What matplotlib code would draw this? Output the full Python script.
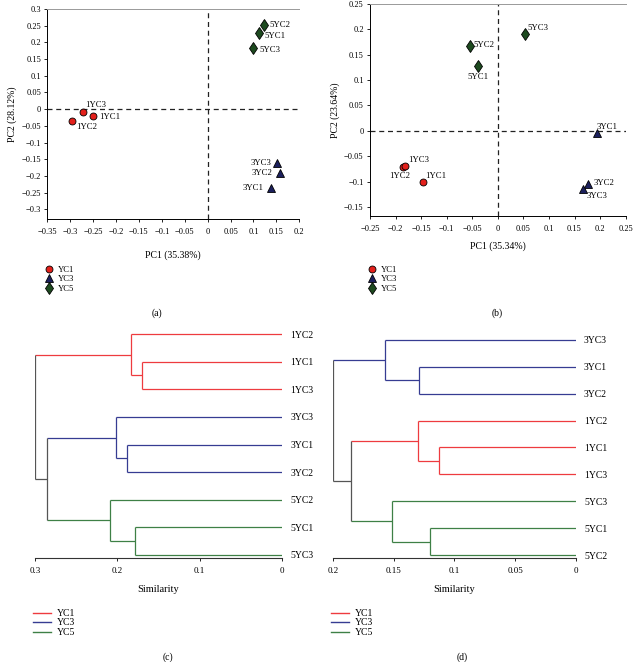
import matplotlib
matplotlib.use('Agg')
import matplotlib.pyplot as plt
import numpy as np
from matplotlib.lines import Line2D

plt.rcParams['font.family'] = ['Liberation Serif', 'DejaVu Serif']

# ---- data ----
samples = ['1YC1', '1YC2', '1YC3', '3YC1', '3YC2', '3YC3', '5YC1', '5YC2', '5YC3']
groups = ['YC1', 'YC3', 'YC5']

# PCA (a)
pc1_a = [-0.250, -0.297, -0.271, 0.138, 0.157, 0.152, 0.111, 0.124, 0.100]
pc2_a = [-0.020, -0.035, -0.009, -0.237, -0.190, -0.161, 0.228, 0.251, 0.184]
# PCA (b)
pc1_b = [-0.147, -0.186, -0.181, 0.194, 0.177, 0.166, -0.038, -0.055, 0.053]
pc2_b = [-0.101, -0.072, -0.069, -0.004, -0.105, -0.114, 0.127, 0.167, 0.191]

# dendrogram (c): leaf order top->bottom, merges (left, right, height)
leaves_c = ['1YC2', '1YC1', '1YC3', '3YC3', '3YC1', '3YC2', '5YC2', '5YC1', '5YC3']
merges_c = [('1YC1', '1YC3', 0.170), ('1YC2', 'm0', 0.183),
            ('3YC1', '3YC2', 0.188), ('3YC3', 'm2', 0.202),
            ('5YC1', '5YC3', 0.178), ('5YC2', 'm4', 0.209),
            ('m3', 'm5', 0.285), ('m1', 'm6', 0.300)]
# dendrogram (d)
leaves_d = ['3YC3', '3YC1', '3YC2', '1YC2', '1YC1', '1YC3', '5YC3', '5YC1', '5YC2']
merges_d = [('3YC1', '3YC2', 0.129), ('3YC3', 'm0', 0.157),
            ('1YC1', '1YC3', 0.113), ('1YC2', 'm2', 0.130),
            ('5YC1', '5YC2', 0.120), ('5YC3', 'm4', 0.151),
            ('m3', 'm5', 0.185), ('m1', 'm6', 0.200)]

# ---- styles ----
pt_style = {'YC1': dict(marker='o', color='#e3201b', ms=5),
            'YC3': dict(marker='^', color='#1b1f5c', ms=6),
            'YC5': dict(marker='d', color='#1d4a1f', ms=6)}
dend_col = {'YC1': '#ee3b3f', 'YC3': '#363c92', 'YC5': '#3e8046', None: '#555555'}

# label offsets (points) and alignment for each sample
off_a = {'1YC1': (4, -1, 'left'), '1YC2': (3, -4.5, 'left'), '1YC3': (1, 5, 'left'),
         '3YC1': (-5, 0, 'right'), '3YC2': (-5, 0, 'right'), '3YC3': (-4, 0, 'right'),
         '5YC1': (4.5, -2, 'left'), '5YC2': (3.5, 0, 'left'), '5YC3': (4, -1.5, 'left')}
off_b = {'1YC1': (2, 4.5, 'left'), '1YC2': (-2, -6, 'center'), '1YC3': (2, 4, 'left'),
         '3YC1': (0, 4, 'left'), '3YC2': (4, 0.5, 'left'), '3YC3': (3, -5.5, 'left'),
         '5YC1': (0, -7.5, 'center'), '5YC2': (3, 1, 'left'), '5YC3': (2, 4.5, 'left')}

W, H = 635, 662
fig = plt.figure(figsize=(W / 100, H / 100), dpi=100)


def rect(x0, y0, x1, y1):
    return [x0 / W, 1 - y1 / H, (x1 - x0) / W, (y1 - y0) / H]


def fmt(v):
    s = f'{round(v, 3):g}'
    return '0' if s in ('-0', '0') else s.replace('-', '\u2212')


def group_of(name):
    return 'YC' + name[0]


def pca_panel(r, pc1, pc2, offs, xlim, ylim, xt, yt, xlabel, ylabel, lpad):
    ax = fig.add_axes(r)
    ax.axhline(0, color='#222', lw=0.9, ls=(0, (4, 3)), zorder=1)
    ax.axvline(0, color='#222', lw=0.9, ls=(0, (4, 3)), zorder=1)
    for g in groups:
        idx = [i for i, s in enumerate(samples) if group_of(s) == g]
        st = pt_style[g]
        ax.plot([pc1[i] for i in idx], [pc2[i] for i in idx], ls='none',
                marker=st['marker'], ms=st['ms'], mfc=st['color'], mec='black',
                mew=0.6, zorder=3, label=g)
    for i, s in enumerate(samples):
        dx, dy, ha = offs[s]
        ax.annotate(s, (pc1[i], pc2[i]), xytext=(dx, dy), textcoords='offset points',
                    ha=ha, va='center', fontsize=6.3)
    ax.set_xlim(*xlim)
    ax.set_ylim(*ylim)
    ax.set_xticks(xt)
    ax.set_xticklabels([fmt(v) for v in xt])
    ax.set_yticks(yt)
    ax.set_yticklabels([fmt(v) for v in yt])
    ax.tick_params(labelsize=6, length=2.5, width=0.6, pad=2)
    ax.tick_params(axis='x', pad=4)
    ax.spines['right'].set_visible(False)
    ax.spines['top'].set_color('#999999')
    for sp in ['top', 'left', 'bottom']:
        ax.spines[sp].set_linewidth(0.7)
    ax.set_xlabel(xlabel, fontsize=7, labelpad=lpad)
    ax.set_ylabel(ylabel, fontsize=7, labelpad=3)
    return ax


def dendro_panel(r, leaves, merges, xmax, xt, ylim):
    ax = fig.add_axes(r)
    pos = {s: i for i, s in enumerate(leaves)}
    hgt = {s: 0.0 for s in leaves}
    grp = {s: group_of(s) for s in leaves}
    for k, (a, b, h) in enumerate(merges):
        for c in (a, b):
            ax.plot([hgt[c], h], [pos[c], pos[c]], color=dend_col[grp[c]], lw=0.9,
                    solid_capstyle='butt')
        g = grp[a] if grp[a] == grp[b] else None
        ax.plot([h, h], [pos[a], pos[b]], color=dend_col[g], lw=0.9, solid_capstyle='butt')
        node = f'm{k}'
        pos[node] = (pos[a] + pos[b]) / 2
        hgt[node] = h
        grp[node] = g
    ax.set_xlim(xmax, 0)
    ax.set_ylim(*ylim)
    ax.set_xticks(xt)
    ax.set_xticklabels([fmt(v) for v in xt])
    ax.set_yticks(range(len(leaves)))
    ax.set_yticklabels(leaves, fontsize=7)
    ax.yaxis.tick_right()
    ax.tick_params(axis='y', length=0, pad=6)
    ax.tick_params(axis='x', labelsize=6.5, length=2.5, width=0.6, pad=4)
    for sp in ['top', 'left', 'right']:
        ax.spines[sp].set_visible(False)
    ax.spines['bottom'].set_linewidth(0.8)
    ax.spines['bottom'].set_color('#333333')
    ax.set_xlabel('Similarity', fontsize=7.5, labelpad=7)
    return ax


# (a)
ax_a = pca_panel(rect(47.3, 9, 299.3, 219), pc1_a, pc2_a, off_a, (-0.35, 0.2), (-0.329, 0.3),
                 np.arange(-0.35, 0.201, 0.05), np.arange(-0.3, 0.301, 0.05),
                 'PC1 (35.38%)', 'PC2 (28.12%)', 10)
# (b)
ax_b = pca_panel(rect(370, 4, 625.7, 216), pc1_b, pc2_b, off_b, (-0.25, 0.25), (-0.168, 0.25),
                 np.arange(-0.25, 0.251, 0.05), np.arange(-0.15, 0.251, 0.05),
                 'PC1 (35.34%)', 'PC2 (23.64%)', 6)

for ax, x0 in [(ax_a, 45 / W), (ax_b, 368 / W)]:
    ax.legend(loc='upper left', bbox_to_anchor=(x0, 1 - 266 / H), bbox_transform=fig.transFigure,
              frameon=False, fontsize=6.2, handlelength=1.0, handletextpad=0.5,
              labelspacing=0.15, borderpad=0, borderaxespad=0)

# (c)
dendro_panel(rect(35, 320, 282, 558), leaves_c, merges_c, 0.3, [0.3, 0.2, 0.1, 0],
             (8 + 3 / 27.6, -14 / 27.6))
# (d)
dendro_panel(rect(333, 320, 575.7, 558), leaves_d, merges_d, 0.2, [0.2, 0.15, 0.1, 0.05, 0],
             (8 + 3 / 26.9, -20 / 26.9))

for x0 in (33, 331):
    handles = [Line2D([], [], color=dend_col[g], lw=1) for g in groups]
    fig.legend(handles, groups, loc='upper left', bbox_to_anchor=(x0 / W, 1 - 609 / H),
               frameon=False, fontsize=7, handlelength=1.9, handletextpad=0.5,
               labelspacing=0.05, borderpad=0, borderaxespad=0)

for lab, x, y in [('(a)', 157, 313), ('(b)', 497, 313), ('(c)', 168, 657), ('(d)', 462, 657)]:
    fig.text(x / W, 1 - y / H, lab, ha='center', va='center', fontsize=7)

fig.savefig('out.png', dpi=100)
